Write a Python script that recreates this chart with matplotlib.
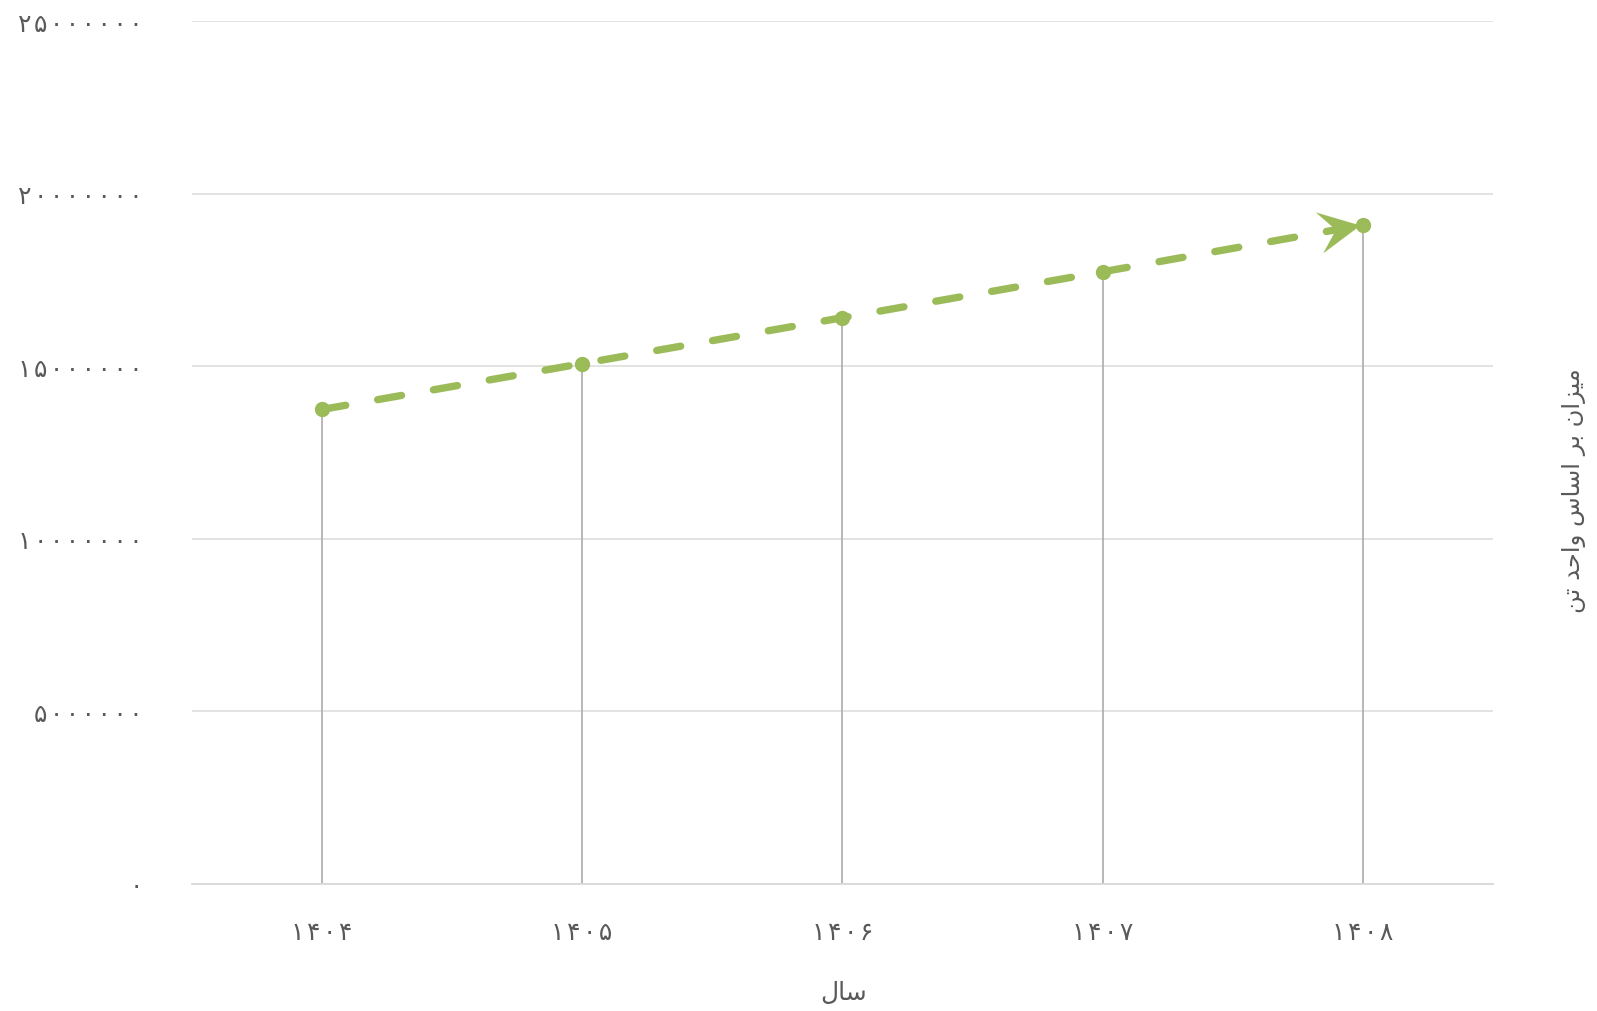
import numpy as np
import matplotlib.pyplot as plt
from matplotlib.path import Path
from matplotlib.markers import MarkerStyle
from matplotlib.transforms import Affine2D

plt.rcParams['font.family'] = ['DejaVu Sans']

years = ["۱۴۰۴", "۱۴۰۵", "۱۴۰۶", "۱۴۰۷", "۱۴۰۸"]
values = [13750000, 15080000, 16410000, 17740000, 19100000]
yticks = [0, 5000000, 10000000, 15000000, 20000000, 25000000]
# Persian text already in visual order with presentation forms
xlabel = "ﻝﺎﺳ"
ylabel = "ﻦﺗ ﺪﺣﺍﻭ ﺱﺎﺳﺍ ﺮﺑ ﻥﺍﺰﻴﻣ"

green = "#9bbb59"
txt = "#595959"


def spaced(s):
    # small letter spacing between digits, as in the original
    return "\u200a".join(s)


def fa_digits(n):
    return spaced(str(n).translate(str.maketrans("0123456789", "۰۱۲۳۴۵۶۷۸۹")))


fig = plt.figure(figsize=(15.97, 10.12), dpi=100)
ax = fig.add_axes([0.12, 0.1255, 0.815, 0.8525])

x = np.arange(len(years))
ax.vlines(x, 0, values, color="#ababab", lw=1.2, zorder=2)
ax.plot(x, values, color=green, lw=5.3, linestyle=(0, (3.3, 4.4)),
        dash_capstyle="round", zorder=3)
ax.plot(x, values, "o", color=green, ms=10, zorder=4)

ax.set_xlim(-0.5, 4.5)
ax.set_ylim(0, 25000000)
ax.set_yticks(yticks)
ax.set_yticklabels([fa_digits(v) for v in yticks])
ax.set_xticks(x)
ax.set_xticklabels([spaced(y) for y in years])
ax.tick_params(axis="y", length=0, pad=35, labelsize=18, labelcolor=txt)
ax.tick_params(axis="x", length=0, pad=26, labelsize=18, labelcolor=txt)
ax.grid(axis="y", color="#dedede", lw=1.2)
ax.set_axisbelow(True)
for s in ["top", "right", "left"]:
    ax.spines[s].set_visible(False)
ax.spines["bottom"].set_color("#d9d9d9")
ax.spines["bottom"].set_linewidth(1.3)

# stealth-like arrow head at the last point
p0 = ax.transData.transform((x[-2], values[-2]))
p1 = ax.transData.transform((x[-1], values[-1]))
ang = np.degrees(np.arctan2(p1[1] - p0[1], p1[0] - p0[0]))
head = Path([(0, 0), (-1, 0.5), (-0.6, 0), (-1, -0.5), (0, 0)],
            [Path.MOVETO, Path.LINETO, Path.LINETO, Path.LINETO, Path.CLOSEPOLY])
mk = MarkerStyle(head, transform=Affine2D().rotate_deg(ang))
ax.plot(x[-1] - 0.01, values[-1], marker=mk, ms=60, color=green, mew=0, zorder=5)

fig.text(0.528, 0.019, xlabel, ha="center", va="center", fontsize=18, color=txt)
fig.text(0.9855, 0.515, ylabel, ha="center", va="center", rotation=90,
         fontsize=17.5, color=txt)

fig.savefig("out.png", dpi=100)
